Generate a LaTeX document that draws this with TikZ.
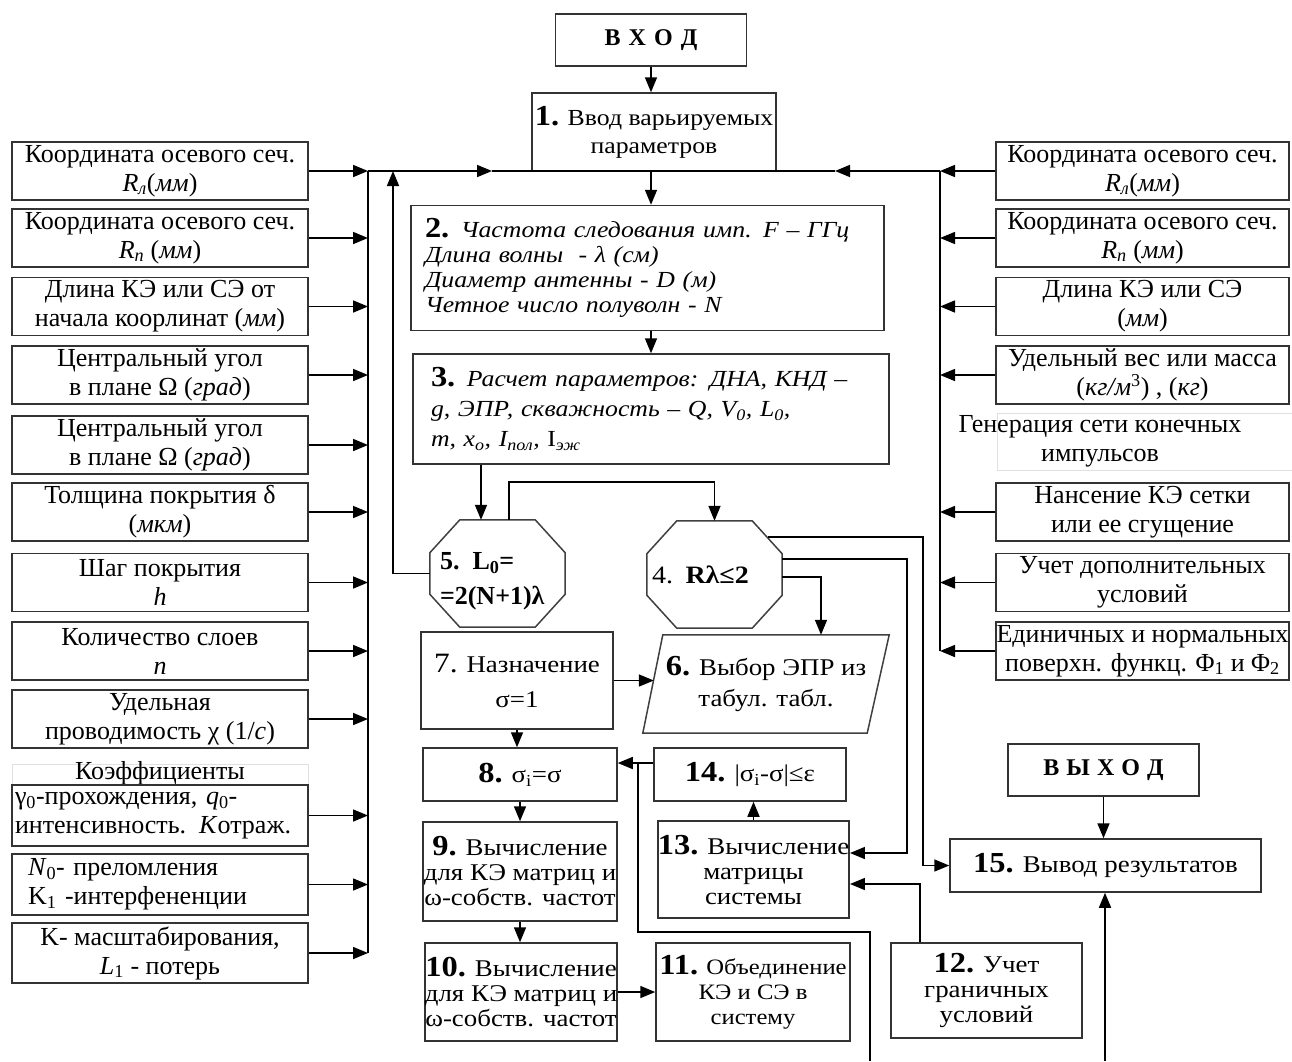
\documentclass[tikz,border=0pt]{standalone}
\usepackage{fontspec}
\setmainfont{Liberation Serif}
\newfontfamily\wideserif[FakeStretch=1.12]{Liberation Serif}
\usetikzlibrary{arrows.meta}
\newcommand\mysf{\fontsize{26}{29}\selectfont}
\newcommand\mymf{\wideserif\fontsize{24}{25}\selectfont}
\newcommand\myif{\wideserif\fontsize{23}{25}\selectfont\itshape}
\newcommand\mynum[1]{{\fontsize{29}{25}\selectfont\bfseries #1}}
\newcommand\mynumr[1]{{\fontsize{28}{25}\selectfont #1}}
\newcommand\octpath[1]{\draw[bl] ([xshift=30pt]#1.north west) -- ([xshift=-30pt]#1.north east) -- ([yshift=-33pt]#1.north east) -- ([yshift=33pt]#1.south east) -- ([xshift=-30pt]#1.south east) -- ([xshift=30pt]#1.south west) -- ([yshift=33pt]#1.south west) -- ([yshift=-33pt]#1.north west) -- cycle;}
\tikzset{
  bl/.style={line width=1.5pt, draw=black!75},
  ln/.style={line width=1.6pt, draw=black},
  arr/.style={line width=1.6pt, draw=black, -{Triangle[length=15pt,width=12pt]}},
  bx/.style={draw=black!80, line width=1.5pt, rectangle, inner sep=0pt, align=center, font=\mymf},
  side/.style={bx, minimum width=296pt, minimum height=58pt, font=\mysf},
  rside/.style={bx, minimum width=293pt, minimum height=58pt, font=\mysf},
  faint/.style={draw=black!12, line width=0.8pt},
  plain/.style={inner sep=0pt, align=center, font=\mymf},
}
\begin{document}
\begin{tikzpicture}[x=1pt,y=-1pt]
\useasboundingbox[fill=white] (0,0) rectangle (1292,1061);

% ---- left column ----
\node[side] (L1) at (160,171) {Координата осевого сеч.\\\textit{R}\textsubscript{\textit{л}}(\textit{мм})};
\node[side] (L2) at (160,238) {Координата осевого сеч.\\\textit{R}\textsubscript{\textit{п}} (\textit{мм})};
\node[side] (L3) at (160,306.5) {Длина КЭ или СЭ от\\начала коорлинат (\textit{мм})};
\node[side] (L4) at (160,375) {Центральный угол\\в плане Ω (\textit{град})};
\node[side] (L5) at (160,445) {Центральный угол\\в плане Ω (\textit{град})};
\node[side] (L6) at (160,512) {Толщина покрытия δ\\(\textit{мкм})};
\node[side] (L7) at (160,582.5) {Шаг покрытия\\\textit{h}};
\node[side] (L8) at (160,651) {Количество слоев\\\textit{n}};
\node[side] (L9) at (160,719) {Удельная\\проводимость χ (1/\textit{с})};
\draw[faint] (12,764) rectangle (308,785);
\node[plain, font=\mysf] (LK) at (160,773) {Коэффициенты};
\node[side, minimum height=61pt, text width=290pt, align=left] (L10) at (160,815.5) {γ\textsubscript{0}-прохождения, \textit{q}\textsubscript{0}-\\интенсивность. \textit{K}отраж.};
\node[side, minimum height=61pt, text width=264pt, align=left] (L11) at (160,884.5) {\textit{N}\textsubscript{0}- преломления\\K\textsubscript{1} -интерфененции};
\node[side, minimum height=60pt] (L12) at (160,953) {K- масштабирования,\\\textit{L}\textsubscript{1} - потерь};

% ---- right column ----
\node[rside] (R1) at (1142.5,171) {Координата осевого сеч.\\\textit{R}\textsubscript{\textit{л}}(\textit{мм})};
\node[rside] (R2) at (1142.5,238) {Координата осевого сеч.\\\textit{R}\textsubscript{\textit{п}} (\textit{мм})};
\node[rside] (R3) at (1142.5,306.5) {Длина КЭ или СЭ\\(\textit{мм})};
\node[rside] (R4) at (1142.5,375) {Удельный вес или масса\\(\textit{кг/м}\textsuperscript{3}) , (\textit{кг})};
\draw[faint] (997,413) rectangle (1292,470);
\node[plain, font=\mysf] (RG) at (1100,441) {Генерация сети конечных\\импульсов};
\node[rside] (R6) at (1142.5,512) {Нансение КЭ сетки\\или ее сгущение};
\node[rside] (R7) at (1142.5,582.5) {Учет дополнительных\\условий};
\node[rside] (R8) at (1142.5,651) {Единичных и нормальных\\поверхн. функц. Φ\textsubscript{1} и Φ\textsubscript{2}};

% ---- centre ----
\node[bx, minimum width=191pt, minimum height=52pt, font=\fontsize{24}{28}\selectfont\bfseries] (IN) at (651,40) {В\hspace{8pt}Х\hspace{8pt}О\hspace{8pt}Д};
\node[bx, minimum width=244pt, minimum height=78pt, font=\wideserif\fontsize{23}{28}\selectfont] (B1) at (654,132) {\mynum{1.} Ввод варьируемых\\параметров};
\node[bx, minimum width=473pt, minimum height=125pt, text width=445pt, align=left, font=\myif] (B2) at (647.5,268) {\mynum{\upshape 2.} Частота следования имп. \textit{F} – ГГц\\Длина волны \ - λ (см)\\Диаметр антенны - \textit{D} (м)\\Четное число полуволн - \textit{N}};
\node[bx, minimum width=476pt, minimum height=110pt, text width=440pt, align=left, font=\wideserif\fontsize{23}{30}\selectfont\itshape] (B3) at (651,409) {\mynum{\upshape 3.} Расчет параметров: ДНА, КНД –\\g, ЭПР, скважность – Q, V\textsubscript{0}, L\textsubscript{0},\\m, x\textsubscript{o}, I\textsubscript{пол}, {\upshape I}\textsubscript{эж}};

\node[plain, minimum width=135pt, minimum height=107pt] (B5) at (497.5,573.5) {};
\octpath{B5}
\node[plain, text width=115pt, align=left, font=\fontsize{26}{35}\selectfont\bfseries] (B5t) at ([yshift=-8pt]B5.center) {5. L\textsubscript{0}=\\=2(N+1)λ};
\node[plain, minimum width=135pt, minimum height=107pt, text width=125pt, align=left, font=\wideserif\fontsize{25}{30}\selectfont] (B4) at (714.5,574.5) {\raisebox{-6pt}{4. \textbf{Rλ≤2}}};
\octpath{B4}

\node[bx, minimum width=192pt, minimum height=97pt] (B7) at (517,680.5) {\mynumr{7.} Назначение\\[10pt]σ=1};
\node[plain, minimum width=246pt, minimum height=98pt] (B6) at (766,684) {\mynum{6.} Выбор ЭПР из\\[6pt]табул. табл.};
\draw[bl] ([xshift=20pt]B6.north west) -- (B6.north east) -- ([xshift=-22pt]B6.south east) -- (B6.south west) -- cycle;

\node[bx, minimum width=194pt, minimum height=53pt] (B8) at (520,774.5) {\mynum{8.} σ\textsubscript{i}=σ};
\node[bx, minimum width=192pt, minimum height=53pt] (B14) at (750,774.5) {\mynum{14.} |σ\textsubscript{i}-σ|≤ε};
\node[bx, minimum width=194pt, minimum height=99pt] (B9) at (520,871.5) {\mynum{9.} Вычисление\\для КЭ матриц и\\ω-собств. частот};
\node[bx, minimum width=191pt, minimum height=97pt] (B13) at (753.5,869.5) {\mynum{13.} Вычисление\\матрицы\\системы};
\node[bx, minimum width=192pt, minimum height=98pt] (B10) at (521,992) {\mynum{10.} Вычисление\\для КЭ матриц и\\ω-собств. частот};
\node[bx, minimum width=194pt, minimum height=98pt, font=\wideserif\fontsize{22}{25}\selectfont] (B11) at (753,992) {\mynum{11.} Объединение\\КЭ и СЭ в\\систему};
\node[bx, minimum width=191pt, minimum height=95pt] (B12) at (986.5,990.5) {\mynum{12.} Учет\\граничных\\условий};
\node[bx, minimum width=191pt, minimum height=52pt, font=\fontsize{24}{28}\selectfont\bfseries] (OUT) at (1103.5,770) {В\hspace{7pt}Ы\hspace{7pt}Х\hspace{7pt}О\hspace{7pt}Д};
\node[bx, minimum width=311pt, minimum height=53pt] (B15) at (1105.5,865.5) {\mynum{15.} Вывод результатов};

% ---- coordinates ----
\coordinate (lbus) at (368,171);
\coordinate (rbus) at (940,171);
\coordinate (ret) at (393,171);
\coordinate (hl) at (492,171);
\coordinate (hr) at (835,171);
\coordinate (bot1) at (870,1061);
\coordinate (bot2) at (1105,1061);
\coordinate (b5a) at ([xshift=-16.5pt]B5.north);
\coordinate (b5b) at ([xshift=11.5pt]B5.north);
\coordinate (b6l) at ([xshift=11pt]B6.west);

% ---- buses ----
\draw[ln] (lbus) -- (lbus |- L12.east);
\draw[ln] (rbus) -- (rbus |- R8.west);
\foreach \n in {L1,L2,L3,L4,L5,L6,L7,L8,L9,L10,L11,L12}
  \draw[arr] (\n.east) -- (\n.east -| lbus);
\foreach \n in {R1,R2,R3,R4,R6,R7,R8}
  \draw[arr] (\n.west) -- (\n.west -| rbus);
\draw[arr] (lbus) -- (hl);
\draw[ln] (hl) -- (hr);
\draw[arr] (rbus) -- (hr);
\draw[arr] (B5.west) -| (ret);

% ---- main flow ----
\draw[arr] (IN.south) -- (IN.south |- B1.north);
\draw[arr] (IN.south |- B1.south) -- (IN.south |- B2.north);
\draw[arr] (IN.south |- B2.south) -- (IN.south |- B3.north);
\draw[arr] (b5a |- B3.south) -- (b5a);
\draw[arr] (b5b) -- ++(0,-38) -| (B4.north);
\draw[arr] ([xshift=-14pt,yshift=-16pt]B4.north east) -- ++(155,0) |- (B15.west);
\draw[arr] ([yshift=-38pt]B4.north east) -- ++(125,0) |- ([yshift=16.5pt]B13.east);
\draw[arr] ([yshift=-56pt]B4.north east) -| ([xshift=55pt]B6.north);
\draw[arr] (B7.east) -- (B7.east -| b6l);
\draw[arr] (B7.south) -- (B7.south |- B8.north);
\draw[arr] (B8.south) -- (B9.north);
\draw[arr] (B9.south) -- (B9.south |- B10.north);
\draw[arr] (B10.east) -- (B10.east -| B11.west);
\draw[arr] (B13.north) -- (B13.north |- B14.south);
\draw[arr] ([yshift=11.5pt]B14.west) -- ([yshift=11.5pt]B8.east);
\draw[ln] (bot1) -- ++(0,-129) -| ([xshift=20pt,yshift=11.5pt]B8.east);
\draw[arr] ([xshift=-66.5pt]B12.north) |- ([yshift=-14.5pt]B13.east);
\draw[arr] (OUT.south) -- (OUT.south |- B15.north);
\draw[arr] (bot2) -- (bot2 |- B15.south);
\end{tikzpicture}
\end{document}
